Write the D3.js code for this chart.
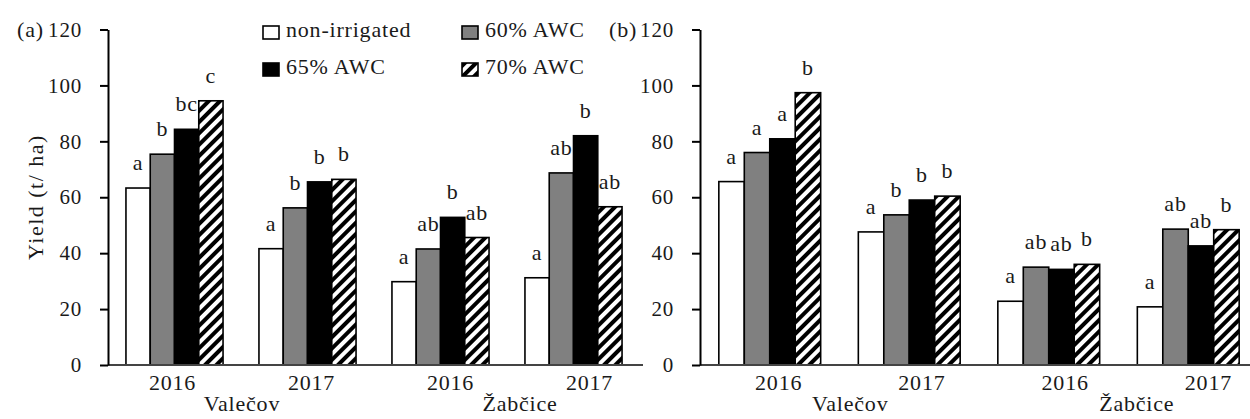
<!DOCTYPE html>
<html>
<head>
<meta charset="utf-8">
<script src="https://cdn.jsdelivr.net/npm/d3@7"></script>
<style>
body {margin: 0; background: #fff;}
text {font-family: "Liberation Serif", "Times New Roman", serif; fill: #1a1a1a; letter-spacing: 0.8px;}
</style>
</head>
<body>
<svg id="chart"></svg>
<script>

// categories
const groups = ["V2016", "V2017", "Z2016", "Z2017"]
const years = ["2016", "2017", "2016", "2017"]
const sites = ["Valečov", "Žabčice"]
const treatments = ["non-irrigated", "60% AWC", "65% AWC", "70% AWC"]

// yield (t/ha), panel (a), one array per treatment, in group order
const aNonIrrigated = [63.3, 41.6, 29.8, 31.2]
const aAwc60 = [75.4, 56.2, 41.5, 68.7]
const aAwc65 = [84.3, 65.5, 52.8, 82.0]
const aAwc70 = [94.5, 66.4, 45.6, 56.6]
const aLetters = [["a", "b", "bc", "c"], ["a", "b", "b", "b"], ["a", "ab", "b", "ab"], ["a", "ab", "b", "ab"]]

// yield (t/ha), panel (b)
const bNonIrrigated = [65.6, 47.6, 22.8, 20.8]
const bAwc60 = [76.0, 53.7, 35.0, 48.6]
const bAwc65 = [80.9, 59.0, 34.2, 42.6]
const bAwc70 = [97.4, 60.4, 36.0, 48.4]
const bLetters = [["a", "a", "a", "b"], ["a", "b", "b", "b"], ["a", "ab", "ab", "b"], ["a", "ab", "ab", "b"]]

const yTicks = [0, 20, 40, 60, 80, 100, 120]

var width = 1250,
height = 419

const svg = d3.select("#chart")
.attr("width", width)
.attr("height", height)

//hachures 70% AWC
const pat = svg.append("defs").append("pattern")
    .attr("id", "hatch")
    .attr("patternUnits", "userSpaceOnUse")
    .attr("width", 8)
    .attr("height", 8)
    .attr("patternTransform", "rotate(45)")
pat.append("rect").attr("width", 8).attr("height", 8).attr("fill", "#fff")
pat.append("rect").attr("width", 4).attr("height", 8).attr("fill", "#000")

const fill = d3.scaleOrdinal(treatments, ["#fff", "#808080", "#000", "url(#hatch)"])

const y = d3.scaleLinear().domain([0, 120]).range([365, 29.5])

function panel (tag, x0, x1, labX0, labX1, series, letters){

    const x = d3.scaleBand().domain(groups).range([x0, x1]).paddingInner(0.27).paddingOuter(0.135)
    const xs = d3.scaleBand().domain(treatments).range([0, x.bandwidth()])
    // étiquettes des catégories (légèrement décalées dans l'original)
    const xLab = d3.scaleBand().domain(groups).range([labX0, labX1])

    const g = svg.append("g")

    const rows = groups.map((grp, i) => treatments.map((t, j) => ({
        grp: grp, t: t, v: series[j][i], lab: letters[i][j]
    })))

    const grpSel = g.selectAll(".grp")
        .data(rows)
        .join("g")
        .attr("class", "grp")
        .attr("transform", (d, i) => "translate(" + x(groups[i]) + ",0)")

    grpSel.selectAll("rect")
        .data(d => d)
        .join("rect")
            .attr("x", d => xs(d.t))
            .attr("y", d => y(d.v))
            .attr("width", xs.bandwidth())
            .attr("height", d => y(0) - y(d.v))
            .attr("fill", d => fill(d.t))
            .attr("stroke", "#000")
            .attr("stroke-width", 1.6)

    grpSel.selectAll("text")
        .data(d => d)
        .join("text")
            .attr("x", d => xs(d.t) + xs.bandwidth() / 2)
            .attr("y", d => y(d.v) - 18)
            .attr("text-anchor", "middle")
            .style("font-size", "22px")
            .text(d => d.lab)

    //axe x
    g.append("line")
        .attr("x1", x0).attr("x2", x1 + 3)
        .attr("y1", y(0)).attr("y2", y(0))
        .attr("stroke", "#444")
        .attr("stroke-width", 2)

    const xAxis = g.append("g")
        .attr("transform", "translate(0," + y(0) + ")")
        .call(d3.axisBottom(xLab).tickSize(0).tickPadding(9.5).tickFormat((d, i) => years[i]))
    xAxis.select(".domain").remove()
    xAxis.selectAll("text").style("font-size", "22px").attr("fill", "#1a1a1a")

    g.selectAll(".site")
        .data(sites)
        .join("text")
        .attr("class", "site")
        .attr("x", (d, i) => (xLab(groups[2 * i]) + xLab(groups[2 * i + 1]) + xLab.bandwidth()) / 2)
        .attr("y", 411)
        .attr("text-anchor", "middle")
        .style("font-size", "22px")
        .text(d => d)

    //axe y
    const yAxis = g.append("g")
        .attr("transform", "translate(" + x0 + ",0)")
        .call(d3.axisLeft(y).tickValues(yTicks).tickSize(8).tickSizeOuter(0).tickPadding(18))
    yAxis.selectAll("path, line").attr("stroke", "#000").attr("stroke-width", 2)
    yAxis.selectAll("text").style("font-size", "21px").attr("fill", "#1a1a1a")

    g.append("text")
        .attr("x", x0 - 91)
        .attr("y", 37)
        .style("font-size", "22px")
        .text(tag)
}

panel("(a)", 108, 640, 103, 659, [aNonIrrigated, aAwc60, aAwc65, aAwc70], aLetters)
panel("(b)", 700, 1258, 707, 1280, [bNonIrrigated, bAwc60, bAwc65, bAwc70], bLetters)

svg.append("text")
    .attr("transform", "translate(35,197) rotate(-90)")
    .attr("text-anchor", "middle")
    .attr("dy", "0.35em")
    .style("font-size", "22px")
    .style("letter-spacing", "1.5px")
    .text("Yield (t/ ha)")

//légende
const legPos = [[263, 26], [462, 26], [263, 63], [462, 63]]
const leg = svg.append("g")
    .selectAll("g")
    .data(treatments)
    .join("g")
    .attr("transform", (d, i) => "translate(" + legPos[i][0] + "," + legPos[i][1] + ")")
leg.append("rect")
    .attr("width", 16)
    .attr("height", 13)
    .attr("fill", d => fill(d))
    .attr("stroke", "#000")
    .attr("stroke-width", 1.6)
leg.append("text")
    .attr("x", 23)
    .attr("y", 10.5)
    .style("font-size", "22px")
    .text(d => d)

</script>
</body>
</html>
